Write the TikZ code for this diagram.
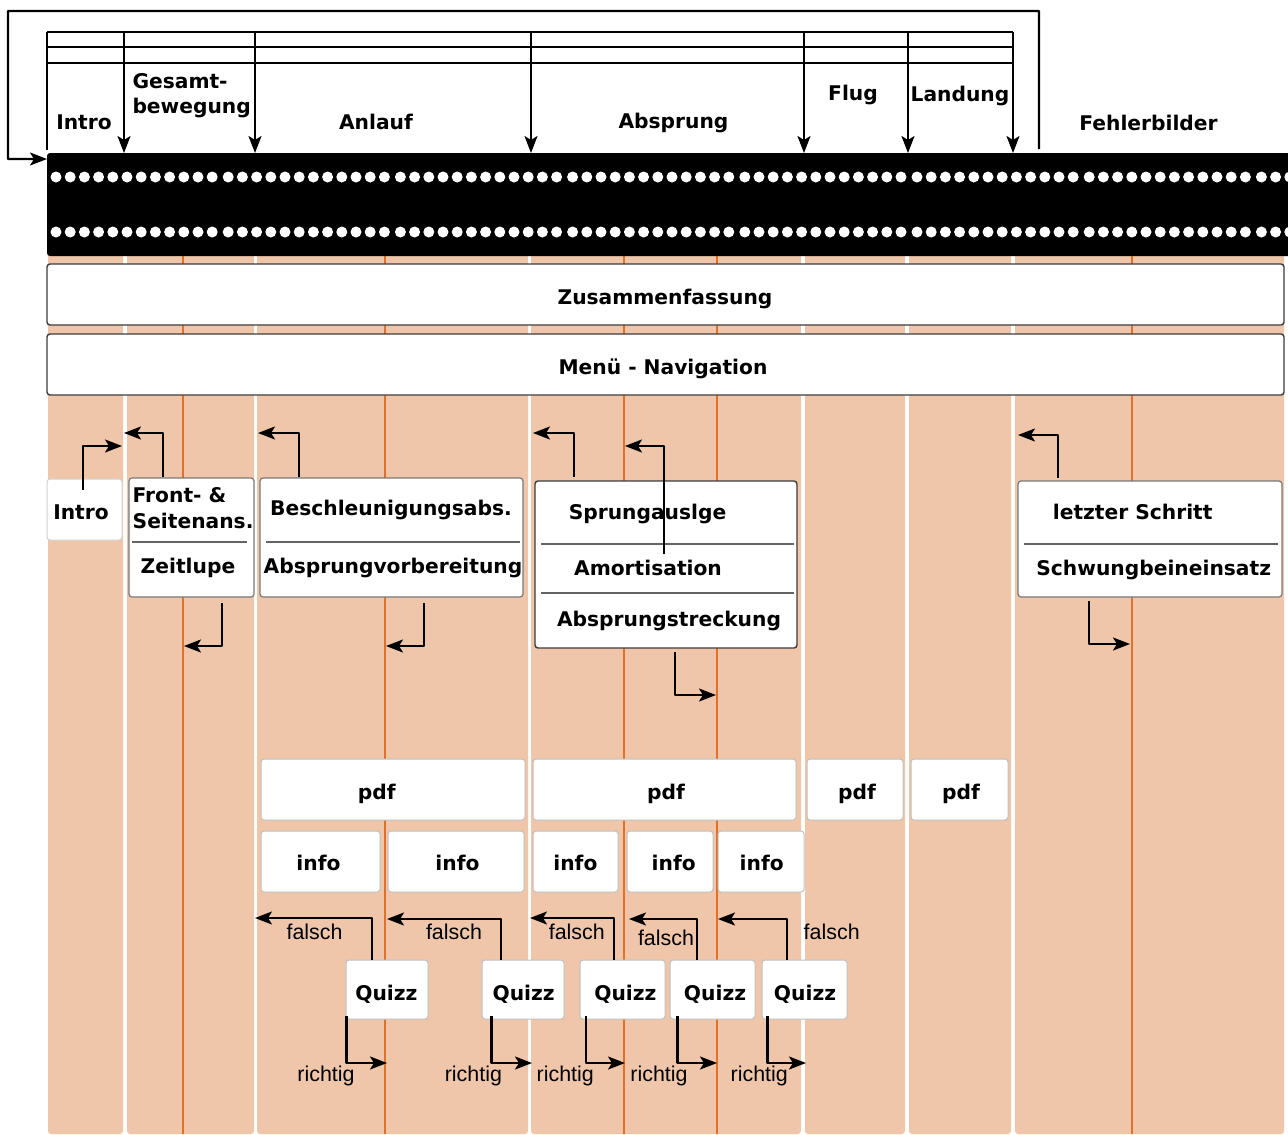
\documentclass[tikz,border=0pt]{standalone}
\usepackage{fontspec}
\setmainfont{DejaVu Sans}
\newfontfamily\notefamily{Liberation Sans}
\usetikzlibrary{arrows.meta,fit,calc}

\definecolor{lanefill}{RGB}{239,198,169}
\definecolor{laneline}{RGB}{226,112,40}
\definecolor{cardline}{RGB}{192,192,192}
\definecolor{introline}{RGB}{210,210,210}
\definecolor{frameline}{RGB}{120,120,120}
\definecolor{panelline}{RGB}{60,60,60}
\definecolor{sepline}{RGB}{100,100,100}

\newcommand\lblfont{\fontsize{20.3}{24}\selectfont\bfseries}
\newcommand\notefont{\notefamily\fontsize{21.5}{24}\selectfont}

\tikzset{
  lbl/.style={font=\lblfont, inner sep=0pt, outer sep=0pt},
  note/.style={font=\notefont, inner sep=0pt, outer sep=0pt},
  box/.style={fill=white, rounded corners=3bp, inner sep=0pt, outer sep=0pt, line width=1bp},
  card/.style={box, draw=cardline},
  faint/.style={box, draw=introline},
  frame/.style={box, draw=frameline, line width=1.2bp},
  panel/.style={box, draw=panelline, line width=1.4bp},
  sep/.style={draw=sepline, line width=1.1bp},
  wire/.style={line width=2.2bp, line join=round},
  tipshape/.tip={Stealth[length=17bp,width=13bp,inset=4bp]},
  arr/.style={wire, -tipshape},
}

\begin{document}
\begin{tikzpicture}[x=1bp,y=-1bp]
\useasboundingbox (0,0) rectangle (1288,1135);

% swim lanes
\foreach \a/\b in {48/123,127/254,257/528,531/801,805/905,909/1011,1015/1284}
  \fill[lanefill, rounded corners=3bp] (\a,200) rectangle (\b,1134);
\foreach \x in {183,385,624,717,1132}
  \draw[laneline, line width=1.8bp] (\x,256) -- (\x,1134);

% film strip
\node[fill=black, rounded corners=3bp, inner sep=0pt, outer sep=0pt,
      fit={(47,153) (1300,256)}] (film) {};
\foreach \k in {0,...,7}{
  \foreach \i in {0,...,11}{
    \pgfmathsetmacro\dx{56+172.2*\k+14.2*\i}
    \fill[white] (\dx,177) circle[radius=5.5];
    \fill[white] (\dx,232) circle[radius=5.5];
  }
}

% chapter header
\foreach \y in {32,47,63}
  \draw[wire] (47,\y) -- (1013,\y);
\coordinate (hl) at (47,32);
\draw[wire] (hl) -- (47,150);
\foreach \x in {124,255,531,804,908,1013}{
  \coordinate (top\x) at (\x,32);
  \draw[arr] (top\x) -- (top\x |- film.north);
}
\coordinate (loopa) at (1039,149);
\coordinate (loopb) at (1039,11);
\coordinate (loopc) at (8,11);
\coordinate (loopd) at (8,159);
\draw[arr] (loopa) -- (loopb) -- (loopc) -- (loopd) -- ([yshift=-6bp]film.north west);

\node[lbl, anchor=base] (hIntro) at (84,129.5) {Intro};
\node[lbl, anchor=base west] (hGes1) at (132.5,88) {Gesamt-};
\node[lbl, anchor=base west] (hGes2) at (132.5,113) {bewegung};
\node[lbl, anchor=base] (hAnlauf) at (376,129.5) {Anlauf};
\node[lbl, anchor=base] (hAbsprung) at (673.5,128.5) {Absprung};
\node[lbl, anchor=base] (hFlug) at (853,100) {Flug};
\node[lbl, anchor=base] (hLandung) at (960,101.5) {Landung};
\node[lbl, anchor=base] (hFehler) at (1148.5,130) {Fehlerbilder};

% summary and menu bars
\node[panel, fit={(47,264) (1284,325)}] (summary) {};
\node[lbl, anchor=base] at (665,304) {Zusammenfassung};
\node[panel, fit={(47,334) (1284,395)}] (menu) {};
\node[lbl, anchor=base] at (663,374) {Menü - Navigation};

% chapter content boxes
\node[faint, fit={(47,479) (122,540)}] (introbox) {};
\node[lbl, anchor=base] at (81,519) {Intro};

\node[frame, fit={(129,478) (254,597)}] (frontbox) {};
\draw[sep] (132,542) -- (247,542);
\node[lbl, anchor=base west] at (132.7,502.3) {Front- \&};
\node[lbl, anchor=base west] at (132.7,528.3) {Seitenans.};
\node[lbl, anchor=base] at (188,573) {Zeitlupe};

\node[frame, fit={(260,478) (523,597)}] (beschbox) {};
\draw[sep] (266,542) -- (520,542);
\node[lbl, anchor=base] at (391,515) {Beschleunigungsabs.};
\node[lbl, anchor=base] at (393,573) {Absprungvorbereitung};

\node[panel, fit={(535,481) (797,648)}] (sprungbox) {};
\draw[sep] (541,544) -- (794,544);
\draw[sep] (541,593) -- (794,593);
\node[lbl, anchor=base] at (647.5,519) {Sprungauslge};
\node[lbl, anchor=base] at (648,575) {Amortisation};
\node[lbl, anchor=base] at (669,626) {Absprungstreckung};

\node[frame, fit={(1018,481) (1282,597)}] (fehlerbox) {};
\draw[sep] (1024,544) -- (1278,544);
\node[lbl, anchor=base] at (1132.7,519) {letzter Schritt};
\node[lbl, anchor=base] at (1153.7,575) {Schwungbeineinsatz};

% navigation between chapter pages
\coordinate (n1a) at (83,490);    \coordinate (n1b) at (122,446);
\coordinate (n2a) at (163,477);   \coordinate (n2b) at (124,433);
\coordinate (n3a) at (222,603);   \coordinate (n3b) at (184,646);
\coordinate (n4a) at (299,477);   \coordinate (n4b) at (258,433);
\coordinate (n5a) at (424,603);   \coordinate (n5b) at (386,646);
\coordinate (n6a) at (574,477);   \coordinate (n6b) at (533,433);
\coordinate (n7a) at (664,554);   \coordinate (n7b) at (625,446);
\coordinate (n8a) at (675,652);   \coordinate (n8b) at (716,695);
\coordinate (n9a) at (1058,478);  \coordinate (n9b) at (1018,435);
\coordinate (n10a) at (1089,601); \coordinate (n10b) at (1130,644);
\foreach \n in {1,...,10}
  \draw[arr] (n\n a) |- (n\n b);

% pdf and info pages
\node[card, fit={(261,759) (525,820)}] (pdfA) {};
\node[card, fit={(533,759) (796,820)}] (pdfB) {};
\node[card, fit={(807,759) (903,820)}] (pdfC) {};
\node[card, fit={(911,759) (1008,820)}] (pdfD) {};
\foreach \x in {376.8,666,857,961}
  \node[lbl, anchor=base] at (\x,799) {pdf};

\node[card, fit={(261,831) (380,892)}] (infoA) {};
\node[card, fit={(388,831) (524,892)}] (infoB) {};
\node[card, fit={(533,831) (618,892)}] (infoC) {};
\node[card, fit={(627,831) (713,892)}] (infoD) {};
\node[card, fit={(718,831) (804,892)}] (infoE) {};
\foreach \x in {318.5,457.5,575.4,673.7,761.7}
  \node[lbl, anchor=base] at (\x,870) {info};

% quizzes
\node[card, fit={(346,960) (428,1019)}] (quizA) {};
\node[card, fit={(482,960) (564,1019)}] (quizB) {};
\node[card, fit={(580,960) (665,1019)}] (quizC) {};
\node[card, fit={(670,960) (755,1019)}] (quizD) {};
\node[card, fit={(762,960) (847,1019)}] (quizE) {};
\foreach \x in {386.4,523.6,625.4,715,805}
  \node[lbl, anchor=base] at (\x,1000) {Quizz};

% wrong answer: back to the chapter
\foreach \q/\s/\e/\ey in {A/372/255/918, B/501/387/919, C/614/530/918, D/697/629/919, E/787/718/919}{
  \coordinate (fe\q) at (\e,\ey);
  \draw[arr] (quiz\q.north -| \s,0) |- (fe\q);
}
\node[note, anchor=base] at (314.6,939) {falsch};
\node[note, anchor=base] at (454,939) {falsch};
\node[note, anchor=base] at (576.8,939) {falsch};
\node[note, anchor=base] at (666,945) {falsch};
\node[note, anchor=base] at (831.7,939) {falsch};

% right answer: on to the next page
\foreach \q/\s/\e in {A/346.5/387, B/491.4/532, C/585.6/625, D/677.4/717, E/767.4/806}{
  \coordinate (re\q) at (\e,1063);
  \draw[arr] ([yshift=3bp]quiz\q.south -| \s,0) |- (re\q);
}
\foreach \x in {326,473.4,565.3,659,759.3}
  \node[note, anchor=base] at (\x,1081.5) {richtig};

\end{tikzpicture}
\end{document}
